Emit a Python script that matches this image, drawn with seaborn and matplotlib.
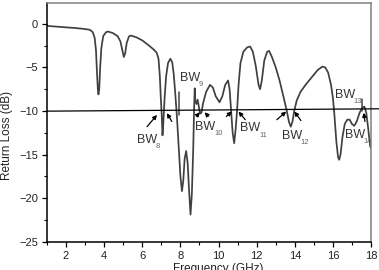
import numpy as np
import pandas as pd
import matplotlib
matplotlib.use("Agg")
import matplotlib.pyplot as plt
import seaborn as sns

# return loss curve (GHz, dB)
freq = [1.0, 1.5, 2.0, 2.5, 2.92, 3.25, 3.4, 3.5, 3.57, 3.62, 3.67, 3.7, 3.74, 3.79, 3.85,
        3.95, 4.1, 4.2, 4.45, 4.7, 4.85, 4.95, 5.03, 5.1, 5.18, 5.3, 5.4, 5.7, 6.0, 6.3,
        6.6, 6.75, 6.85, 6.92, 6.97, 7.02, 7.06, 7.1, 7.17, 7.25, 7.35, 7.47, 7.57, 7.65,
        7.73, 7.82, 7.92, 8.0, 8.08, 8.15, 8.22, 8.3, 8.38, 8.45, 8.53, 8.6, 8.67, 8.72,
        8.75, 8.78, 8.84, 8.9, 8.95, 9.03, 9.1, 9.2, 9.35, 9.55, 9.7, 9.85, 10.05, 10.2,
        10.35, 10.5, 10.58, 10.66, 10.74, 10.82, 10.9, 10.97, 11.05, 11.15, 11.3, 11.5,
        11.66, 11.8, 11.95, 12.1, 12.18, 12.27, 12.4, 12.55, 12.65, 12.8, 13.0, 13.2, 13.4,
        13.58, 13.7, 13.79, 13.88, 13.97, 14.1, 14.3, 14.6, 14.9, 15.2, 15.45, 15.6, 15.75,
        15.9, 16.0, 16.08, 16.18, 16.27, 16.33, 16.4, 16.5, 16.62, 16.75, 16.88, 17.0,
        17.12, 17.25, 17.4, 17.55, 17.65, 17.75, 17.85, 17.95, 18.0]
rl_db = [-0.23, -0.32, -0.40, -0.48, -0.57, -0.68, -0.95, -1.6, -3.0, -5.5, -7.6, -8.1, -7.5,
         -5.0, -2.8, -1.4, -0.95, -0.88, -1.05, -1.4, -2.0, -3.0, -3.8, -3.4, -2.2, -1.45,
         -1.34, -1.55, -1.9, -2.4, -2.95, -3.3, -4.0, -6.0, -8.5, -10.5, -12.8, -11.5, -8.5,
         -6.0, -4.5, -4.0, -4.4, -5.8, -8.0, -10.8, -14.5, -17.5, -19.2, -18.0, -15.5, -14.6,
         -16.0, -19.0, -21.9, -19.5, -14.5, -9.5, -7.4, -8.8, -9.2, -8.7, -9.3, -10.3, -10.2,
         -9.0, -7.8, -7.0, -7.3, -8.3, -9.0, -8.3, -7.0, -6.5, -7.5, -10.0, -12.5, -13.7,
         -12.0, -10.0, -7.0, -4.5, -3.2, -2.7, -2.6, -3.2, -4.8, -7.0, -7.5, -6.5, -4.2,
         -3.2, -3.1, -3.8, -5.0, -6.5, -8.3, -10.0, -11.3, -11.8, -11.2, -10.0, -8.8, -7.8,
         -6.9, -6.1, -5.3, -4.9, -5.0, -5.6, -7.0, -8.5, -10.5, -13.5, -15.3, -15.6, -15.0,
         -13.0, -11.5, -11.0, -11.0, -11.5, -11.7, -11.2, -10.2, -9.6, -9.5, -10.2, -12.0,
         -14.0, -14.3]

# band labels: name, subscript, x, y
bw_names = ["8", "9", "10", "11", "12", "13", "14"]
bw_x = [5.74, 7.99, 8.78, 11.14, 13.34, 16.11, 16.63]
bw_y = [-13.3, -6.2, -11.8, -12.0, -12.85, -8.15, -12.7]

# arrows: (start x, start y, end x, end y)
arrows = [
    (6.25, -11.8, 6.77, -10.45), (7.55, -11.2, 7.29, -10.25),
    (8.84, -10.6, 9.02, -10.15), (9.46, -10.6, 9.27, -10.15),
    (10.41, -10.63, 10.7, -10.06), (11.4, -11.0, 11.05, -10.06),
    (13.06, -11.0, 13.55, -10.06), (14.32, -11.1, 13.98, -10.06),
    (17.68, -11.2, 17.62, -10.2),
]

df = pd.DataFrame({"f": freq, "rl": rl_db})

sns.set_style("ticks")
plt.rcParams["font.family"] = ["Liberation Sans", "DejaVu Sans"]
plt.rcParams["mathtext.default"] = "regular"

fig = plt.figure(figsize=(3.79, 2.70), dpi=100)
ax = fig.add_axes([0.124, 0.105, 0.855, 0.884])

sns.lineplot(data=df, x="f", y="rl", ax=ax, color="#404040", lw=1.25,
             estimator=None, sort=False)

# -10 dB reference line (slightly tilted in the original)
ax.plot([1.0, 18.42], [-10.02, -9.75], color="black", lw=0.9, clip_on=False, zorder=3)

# small vertical marker lines
ax.plot([7.9, 7.9], [-7.8, -10.5], color="#404040", lw=1.1)
ax.plot([17.5, 17.5], [-8.6, -10.0], color="#404040", lw=1.1)

for sub, x, y in zip(bw_names, bw_x, bw_y):
    ax.text(x, y, "BW", fontsize=9, color="#333333", ha="left", va="center")
    ax.annotate(sub, xy=(x, y), xytext=(13.5, -5), textcoords="offset points",
                fontsize=5.5, color="#666666", ha="left", va="center")

for x0, y0, x1, y1 in arrows:
    ax.annotate("", xy=(x1, y1), xytext=(x0, y0),
                arrowprops=dict(arrowstyle="-|>", color="black", lw=0.9,
                                mutation_scale=6, shrinkA=0, shrinkB=0))

ax.set_xlim(1, 18)
ax.set_ylim(-25, 2.4)
ax.set_xticks([2, 4, 6, 8, 10, 12, 14, 16, 18])
ax.set_xticks(np.arange(1, 19, 2), minor=True)
ax.set_yticks([-25, -20, -15, -10, -5, 0])
ax.set_yticks(np.arange(-22.5, 0, 5), minor=True)
ax.tick_params(which="major", direction="out", length=3.5, width=0.9, pad=3,
               labelsize=8, color="black", labelcolor="#222222")
ax.tick_params(which="minor", direction="out", length=2, width=0.8, color="black")

ax.set_xlabel("Frequency (GHz)", fontsize=8.5, color="#222222")
ax.set_ylabel("Return Loss (dB)", fontsize=8.5, color="#222222")
ax.xaxis.set_label_coords(0.528, -0.088)
ax.yaxis.set_label_coords(-0.105, 0.447)

for side in ["left", "bottom"]:
    ax.spines[side].set_color("black")
    ax.spines[side].set_linewidth(1.1)
for side in ["top", "right"]:
    ax.spines[side].set_color("#808080")
    ax.spines[side].set_linewidth(1.1)

fig.savefig("out.png", dpi=100)
